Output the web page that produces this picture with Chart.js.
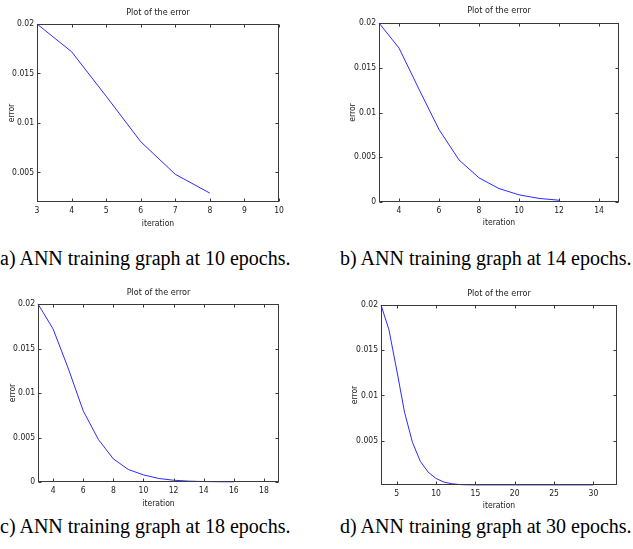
<!DOCTYPE html>
<html>
<head>
<meta charset="utf-8">
<script src="https://cdn.jsdelivr.net/npm/chart.js@4/dist/chart.umd.min.js"></script>
<style>
  body { margin: 0; background: #fff; width: 633px; height: 549px; position: relative; overflow: hidden; }
  canvas { position: absolute; }
  .caption { position: absolute; font-family: 'Liberation Serif', 'Times New Roman', serif; font-size: 20px; line-height: 20px; color: #000; white-space: nowrap; }
</style>
</head>
<body>
<canvas id="chartA" width="300" height="232" style="left:0px; top:0px;"></canvas>
<canvas id="chartB" width="313" height="232" style="left:320px; top:0px;"></canvas>
<canvas id="chartC" width="300" height="240" style="left:0px; top:270px;"></canvas>
<canvas id="chartD" width="313" height="242" style="left:320px; top:270px;"></canvas>

<div class="caption" style="left:0px; top:248px;">a) ANN training graph at 10 epochs.</div>
<div class="caption" style="left:340px; top:248px;">b) ANN training graph at 14 epochs.</div>
<div class="caption" style="left:0px; top:516px;">c) ANN training graph at 18 epochs.</div>
<div class="caption" style="left:340px; top:516px;">d) ANN training graph at 30 epochs.</div>

<script>
// a) 10 epochs
const iterA = [3, 4, 5, 6, 7, 8];
const errA = [0.0200, 0.0172, 0.0127, 0.0081, 0.0048, 0.0029];
const xRangeA = [3, 10];
const yRangeA = [0.002, 0.02];
const xTicksA = [3, 4, 5, 6, 7, 8, 9, 10];
const yTicksA = [0.005, 0.01, 0.015, 0.02];

// b) 14 epochs
const iterB = [3, 4, 5, 6, 7, 8, 9, 10, 11, 12];
const errB = [0.0200, 0.0172, 0.0126, 0.0081, 0.0047, 0.0027, 0.0015, 0.0008, 0.0004, 0.0002];
const xRangeB = [3, 15];
const yRangeB = [0, 0.02];
const xTicksB = [4, 6, 8, 10, 12, 14];
const yTicksB = [0, 0.005, 0.01, 0.015, 0.02];

// c) 18 epochs
const iterC = [3, 4, 5, 6, 7, 8, 9, 10, 11, 12, 13, 14, 15, 16];
const errC = [0.0200, 0.0172, 0.0128, 0.0080, 0.0048, 0.0026, 0.0014, 0.0008, 0.0004, 0.0002, 0.0001, 0.00005, 0.00003, 0.00002];
const xRangeC = [3, 19];
const yRangeC = [0, 0.02];
const xTicksC = [4, 6, 8, 10, 12, 14, 16, 18];
const yTicksC = [0, 0.005, 0.01, 0.015, 0.02];

// d) 30 epochs
const iterD = [3, 4, 5, 6, 7, 8, 9, 10, 11, 12, 13, 14, 15, 16, 17, 18, 19, 20, 21, 22, 23, 24, 25, 26, 27, 28, 29, 30];
const errD = [0.0200, 0.0173, 0.0128, 0.0081, 0.0048, 0.0027, 0.0015, 0.0008, 0.0004, 0.00022, 0.00013, 0.0001, 0.00009, 0.00009,
              0.00009, 0.00009, 0.00009, 0.00009, 0.00009, 0.00009, 0.00009, 0.00009, 0.00009, 0.00009, 0.00009, 0.00009, 0.00009, 0.00009];
const xRangeD = [3, 33];
const yRangeD = [0.00008, 0.02];
const xTicksD = [5, 10, 15, 20, 25, 30];
const yTicksD = [0.005, 0.01, 0.015, 0.02];

const FONT = "'Liberation Sans Narrow', 'DejaVu Sans Condensed', 'Liberation Sans', sans-serif";
const BOX = '#3a3a3a';
const TXT = '#1a1a1a';

// MATLAB style box with inward ticks on all four sides
const matlabBox = {
    id: 'matlabBox',
    afterDatasetsDraw(chart) {
        const { ctx, chartArea: a, scales } = chart;
        ctx.save();
        ctx.strokeStyle = BOX;
        ctx.lineWidth = 1;
        const l = Math.round(a.left) + 0.5, r = Math.round(a.right) - 0.5;
        const t = Math.round(a.top) + 0.5, b = Math.round(a.bottom) - 0.5;
        ctx.strokeRect(l, t, r - l, b - t);
        const len = 3;
        ctx.beginPath();
        scales.x.ticks.forEach(tk => {
            const px = Math.round(scales.x.getPixelForValue(tk.value)) + 0.5;
            ctx.moveTo(px, b); ctx.lineTo(px, b - len);
            ctx.moveTo(px, t); ctx.lineTo(px, t + len);
        });
        scales.y.ticks.forEach(tk => {
            const py = Math.round(scales.y.getPixelForValue(tk.value)) + 0.5;
            ctx.moveTo(l, py); ctx.lineTo(l + len, py);
            ctx.moveTo(r, py); ctx.lineTo(r - len, py);
        });
        ctx.stroke();
        ctx.restore();
    }
};

function makePanel(id, iters, errs, xRange, yRange, xTicks, yTicks, geo) {
    const canvas = document.getElementById(id);
    const points = iters.map((x, i) => ({ x: x, y: errs[i] }));
    const tickFont = { family: FONT, size: 8.5 };
    new Chart(canvas.getContext('2d'), {
        type: 'line',
        data: {
            datasets: [{
                data: points,
                borderColor: '#2b2bff',
                borderWidth: 1,
                pointRadius: 0,
                tension: 0,
                fill: false,
                clip: 2
            }]
        },
        options: {
            responsive: false,
            animation: false,
            devicePixelRatio: 1,
            layout: { padding: { left: 0, right: canvas.width - geo.right, top: 0, bottom: 0 } },
            plugins: {
                legend: { display: false },
                tooltip: { enabled: false },
                title: {
                    display: true,
                    text: 'Plot of the error',
                    fullSize: false,
                    color: TXT,
                    font: { family: FONT, size: 9, weight: 'normal', lineHeight: 1.2 },
                    padding: { top: geo.titleTop, bottom: geo.top - geo.titleTop - 10.8 }
                }
            },
            scales: {
                x: {
                    type: 'linear',
                    min: xRange[0],
                    max: xRange[1],
                    grid: { display: false, drawTicks: false },
                    border: { display: false },
                    ticks: {
                        color: TXT,
                        font: tickFont,
                        padding: 3.5,
                        maxRotation: 0,
                        autoSkip: false,
                        callback: v => String(v)
                    },
                    title: {
                        display: true,
                        text: 'iteration',
                        color: TXT,
                        font: { family: FONT, size: 8.5, lineHeight: 1.2 },
                        padding: { top: 0, bottom: geo.xTitlePad }
                    },
                    afterBuildTicks: s => { s.ticks = xTicks.map(v => ({ value: v })); },
                    afterFit: s => { s.height = canvas.height - geo.bottom; }
                },
                y: {
                    type: 'linear',
                    min: yRange[0],
                    max: yRange[1],
                    grid: { display: false, drawTicks: false },
                    border: { display: false },
                    ticks: {
                        color: TXT,
                        font: tickFont,
                        padding: 3,
                        autoSkip: false,
                        callback: v => String(v)
                    },
                    title: {
                        display: true,
                        text: 'error',
                        color: TXT,
                        font: { family: FONT, size: 8.5, lineHeight: 1.2 },
                        padding: { top: geo.yTitlePad, bottom: 0 }
                    },
                    afterBuildTicks: s => { s.ticks = yTicks.map(v => ({ value: v })); },
                    afterFit: s => { s.width = geo.left; }
                }
            }
        },
        plugins: [matlabBox]
    });
}

makePanel('chartA', iterA, errA, xRangeA, yRangeA, xTicksA, yTicksA,
    { left: 37, right: 279, top: 24, bottom: 202, titleTop: 7.6, xTitlePad: 3.6, yTitlePad: 6.6 });
makePanel('chartB', iterB, errB, xRangeB, yRangeB, xTicksB, yTicksB,
    { left: 59, right: 299, top: 23, bottom: 202, titleTop: 5.6, xTitlePad: 3.9, yTitlePad: 27.6 });
makePanel('chartC', iterC, errC, xRangeC, yRangeC, xTicksC, yTicksC,
    { left: 38, right: 279, top: 34, bottom: 212, titleTop: 17.3, xTitlePad: 1.3, yTitlePad: 7.3 });
makePanel('chartD', iterD, errD, xRangeD, yRangeD, xTicksD, yTicksD,
    { left: 61, right: 297, top: 35, bottom: 215, titleTop: 18.6, xTitlePad: 1.6, yTitlePad: 29.6 });
</script>
</body>
</html>
